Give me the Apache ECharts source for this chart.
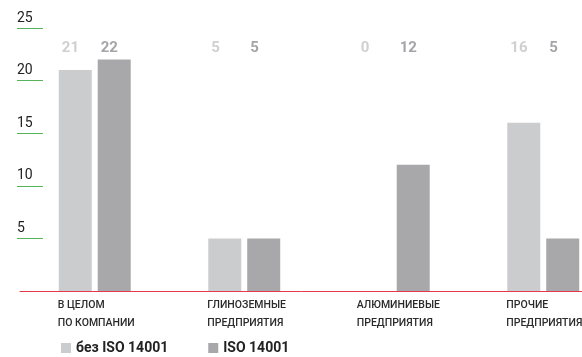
<!DOCTYPE html>
<html>
<head>
<meta charset="utf-8">
<script src="https://cdn.jsdelivr.net/npm/echarts@6/dist/echarts.min.js"></script>
<style>
  html, body { margin: 0; padding: 0; background: #fff; }
  #chart { width: 582px; height: 357px; }
</style>
</head>
<body>
<div id="chart"></div>
<script>
// Categories (two-line labels)
var categories = [
  'В ЦЕЛОМ\nПО КОМПАНИИ',
  'ГЛИНОЗЕМНЫЕ\nПРЕДПРИЯТИЯ',
  'АЛЮМИНИЕВЫЕ\nПРЕДПРИЯТИЯ',
  'ПРОЧИЕ\nПРЕДПРИЯТИЯ'
];
// Series values
var withoutIso = [21, 5, 0, 16];
var withIso = [22, 5, 12, 5];
var seriesNames = ['без ISO 14001', 'ISO 14001'];
// Y axis tick labels
var yTicks = [5, 10, 15, 20, 25];

var FONT = 'Roboto, "DejaVu Sans", sans-serif';

var chart = echarts.init(document.getElementById('chart'), null, { renderer: 'canvas' });

// Value labels sit on one common row above the bars, left-aligned to each bar
function valueRow(params) {
  return { x: params.rect.x + 3, y: 48, align: 'left', verticalAlign: 'middle' };
}

chart.setOption({
  animation: false,
  backgroundColor: '#ffffff',
  grid: {
    left: 20,
    top: 28,
    width: 598,
    bottom: 66,
    containLabel: false,
    outerBoundsMode: 'none'
  },
  legend: {
    left: 61,
    top: 341,
    padding: 0,
    icon: 'rect',
    itemWidth: 10,
    itemHeight: 10,
    itemGap: 40,
    data: seriesNames,
    textStyle: { fontFamily: FONT, fontSize: 14, fontWeight: 'bold', color: '#222' }
  },
  xAxis: {
    type: 'category',
    data: categories,
    offset: 2,
    axisLine: { lineStyle: { color: '#e6394e', width: 1 } },
    axisTick: { show: false },
    axisLabel: {
      margin: 3,
      interval: 0,
      hideOverlap: false,
      formatter: function (v) {
        return v.split('\n').map(function (s) { return '{a|' + s + '}'; }).join('\n');
      },
      rich: {
        a: {
          width: 74,
          align: 'left',
          fontFamily: FONT,
          fontSize: 10.5,
          fontWeight: 500,
          lineHeight: 18,
          color: '#2b2b2b'
        }
      }
    }
  },
  yAxis: {
    type: 'value',
    min: 0,
    max: 25,
    interval: 5,
    offset: 3,
    axisLine: { show: false },
    splitLine: { show: false },
    axisTick: {
      show: true,
      inside: true,
      length: 26,
      customValues: yTicks,
      lineStyle: { color: '#55b35a', width: 1 }
    },
    axisLabel: {
      inside: true,
      margin: 0,
      align: 'left',
      verticalAlign: 'bottom',
      padding: [0, 0, 3, 0],
      customValues: yTicks,
      fontFamily: FONT,
      fontSize: 14,
      color: '#222'
    }
  },
  series: [
    {
      name: seriesNames[0],
      type: 'bar',
      data: withoutIso,
      barWidth: 33,
      barGap: '18%',
      itemStyle: { color: '#cbcccd' },
      label: {
        show: true,
        position: 'top',
        fontFamily: FONT,
        fontSize: 15,
        fontWeight: 'bold',
        color: '#d0d0d2'
      },
      labelLayout: valueRow
    },
    {
      name: seriesNames[1],
      type: 'bar',
      data: withIso,
      barWidth: 33,
      barGap: '18%',
      itemStyle: { color: '#a8a8ab' },
      label: {
        show: true,
        position: 'top',
        fontFamily: FONT,
        fontSize: 15,
        fontWeight: 'bold',
        color: '#a5a5a9'
      },
      labelLayout: valueRow
    }
  ]
});
</script>
</body>
</html>
